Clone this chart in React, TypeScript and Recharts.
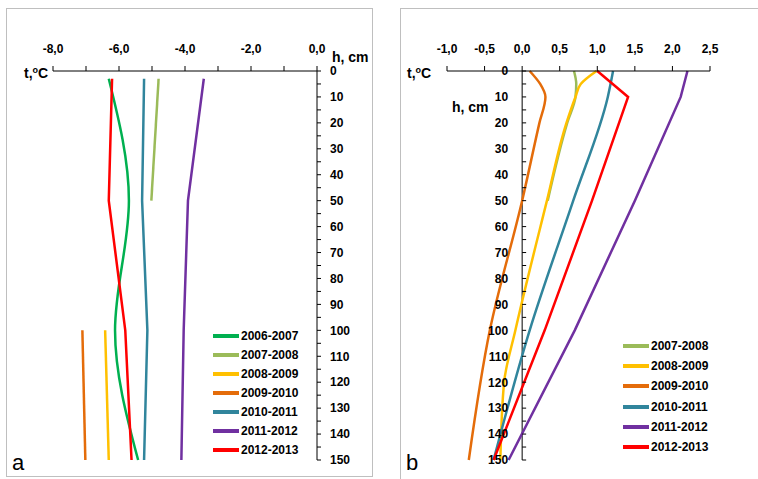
import { Legend, Line, LineChart, ReferenceLine, XAxis, YAxis } from 'recharts';

// ---- panel a (winter-average temperature, °C, against depth, cm)
const seasonsA = ['2006-2007', '2007-2008', '2008-2009', '2009-2010', '2010-2011', '2011-2012', '2012-2013'];
const depthsA = [3, 50, 100, 150];
const depthsA0708 = [3, 50];
const depthsAdeep = [100, 150];
const tA0607 = [-6.31, -5.7, -6.12, -5.42];
const tA0708 = [-4.8, -5.02];
const tA0809 = [-6.42, -6.31];
const tA0910 = [-7.11, -7.02];
const tA1011 = [-5.24, -5.3, -5.14, -5.24];
const tA1112 = [-3.43, -3.91, -4.04, -4.11];
const tA1213 = [-6.21, -6.31, -5.81, -5.62];
const ticksA = [-8, -7, -6, -5, -4, -3, -2, -1, 0];

// ---- panel b
const seasonsB = ['2007-2008', '2008-2009', '2009-2010', '2010-2011', '2011-2012', '2012-2013'];
const depthsB = [0, 10, 50, 100, 150];
const depthsB0708 = [0, 5, 10, 20, 50];
const depthsB0809 = [0, 5, 10, 20, 50, 100, 120, 150];
const depthsB0910 = [0, 5, 10, 20, 50, 100, 150];
const tB0708 = [0.69, 0.72, 0.71, 0.6, 0.34];
const tB0809 = [0.99, 0.78, 0.71, 0.59, 0.33, -0.09, -0.24, -0.29];
const tB0910 = [0.1, 0.24, 0.31, 0.23, 0.0, -0.43, -0.71];
const tB1011 = [1.21, 1.14, 0.68, 0.1, -0.38];
const tB1112 = [2.2, 2.11, 1.5, 0.7, -0.18];
const tB1213 = [1.0, 1.41, 0.93, 0.3, -0.38];
const ticksB = [-1, -0.5, 0, 0.5, 1, 1.5, 2, 2.5];

const depthTicks = [0, 5, 10, 15, 20, 25, 30, 35, 40, 45, 50, 55, 60, 65, 70, 75, 80, 85, 90, 95, 100, 105, 110, 115, 120, 125, 130, 135, 140, 145, 150];

const colors: Record<string, string> = {
  '2006-2007': '#00B050',
  '2007-2008': '#9BBB59',
  '2008-2009': '#FFC000',
  '2009-2010': '#E46C0A',
  '2010-2011': '#31859C',
  '2011-2012': '#7030A0',
  '2012-2013': '#FF0000',
};

const toPoints = (depths: number[], temps: number[]) => depths.map((d, i) => ({ depth: d, t: temps[i] }));

const seriesA = [
  { name: seasonsA[0], data: toPoints(depthsA, tA0607), type: 'monotone' },
  { name: seasonsA[1], data: toPoints(depthsA0708, tA0708), type: 'linear' },
  { name: seasonsA[2], data: toPoints(depthsAdeep, tA0809), type: 'linear' },
  { name: seasonsA[3], data: toPoints(depthsAdeep, tA0910), type: 'linear' },
  { name: seasonsA[4], data: toPoints(depthsA, tA1011), type: 'linear' },
  { name: seasonsA[5], data: toPoints(depthsA, tA1112), type: 'linear' },
  { name: seasonsA[6], data: toPoints(depthsA, tA1213), type: 'linear' },
];

const seriesB = [
  { name: seasonsB[0], data: toPoints(depthsB0708, tB0708), type: 'monotone' },
  { name: seasonsB[1], data: toPoints(depthsB0809, tB0809), type: 'monotone' },
  { name: seasonsB[2], data: toPoints(depthsB0910, tB0910), type: 'monotone' },
  { name: seasonsB[3], data: toPoints(depthsB, tB1011), type: 'monotone' },
  { name: seasonsB[4], data: toPoints(depthsB, tB1112), type: 'linear' },
  { name: seasonsB[5], data: toPoints(depthsB, tB1213), type: 'linear' },
];

const FONT = '"Liberation Sans", Arial, sans-serif';
const tickFont = { fill: '#000', fontSize: 12, fontWeight: 700, fontFamily: FONT };
const comma = (v: number) => v.toFixed(1).replace('.', ',');

// panel b layout, used to put the depth axis at t = 0
const B_AXIS_W = 1;
const B_LEFT = 67;
const B_PLOT_W = 263;
const ZERO_X = B_LEFT + ((0 - ticksB[0]) / (ticksB[ticksB.length - 1] - ticksB[0])) * B_PLOT_W;

function DepthTickB(props: any) {
  const { y, payload } = props;
  const v = payload.value;
  return (
    <g>
      <line x1={ZERO_X} x2={ZERO_X + 4} y1={y} y2={y} stroke="#000" />
      {v % 10 === 0 && (
        <text x={ZERO_X - 14} y={y} dy={4.3} textAnchor="end" {...tickFont}>
          {v}
        </text>
      )}
    </g>
  );
}

function legendContent(rowH: number) {
  return (props: any) => (
    <div>
      {(props.payload ?? []).map((p: any) => (
        <div key={p.value} style={{ display: 'flex', alignItems: 'center', height: rowH }}>
          <span style={{ display: 'inline-block', width: 26, height: 4, background: p.color, marginRight: 2 }} />
          <span style={{ fontFamily: FONT, fontWeight: 700, fontSize: 12, color: '#000' }}>{p.value}</span>
        </div>
      ))}
    </div>
  );
}

function TLabel({ x, y }: { x: number; y: number }) {
  return (
    <text x={x} y={y} fontSize={14} fontWeight={700} fill="#000">
      t,
      <tspan dy={-5} fontSize={9}>o</tspan>
      <tspan dy={5}>C</tspan>
    </text>
  );
}

export default function App() {
  return (
    <div style={{ position: 'absolute', left: 0, top: 0, width: 758, height: 479, overflow: 'hidden', background: '#fff' }}>
      <div style={{ position: 'absolute', left: 6, top: 8, width: 367, height: 469, border: '1px solid #BFBFBF', boxSizing: 'border-box' }} />
      <div style={{ position: 'absolute', left: 400, top: 8, width: 400, height: 500, border: '1px solid #BFBFBF', boxSizing: 'border-box' }} />

      <div style={{ position: 'absolute', left: 0, top: 0 }}>
        <LineChart layout="vertical" width={380} height={479} margin={{ top: 0, right: 23, bottom: 19, left: 53 }} style={{ fontFamily: FONT }}>
          <XAxis
            type="number"
            orientation="top"
            domain={[-8, 0]}
            ticks={ticksA}
            interval={0}
            height={71}
            tickFormatter={(v: number) => (v % 2 === 0 ? comma(v) : '')}
            tick={tickFont}
            tickSize={5}
            tickMargin={13}
            axisLine={{ stroke: '#000' }}
            tickLine={{ stroke: '#000' }}
          />
          <YAxis
            type="number"
            dataKey="depth"
            orientation="right"
            domain={[0, 150]}
            ticks={depthTicks}
            interval={0}
            width={40}
            tickFormatter={(v: number) => (v % 10 === 0 ? String(v) : '')}
            tick={tickFont}
            tickSize={4}
            tickMargin={9}
            axisLine={{ stroke: '#000' }}
            tickLine={{ stroke: '#000' }}
          />
          {seriesA.map((s) => (
            <Line
              key={s.name}
              name={s.name}
              data={s.data}
              dataKey="t"
              type={s.type as any}
              stroke={colors[s.name]}
              strokeWidth={2.5}
              dot={false}
              activeDot={false}
              isAnimationActive={false}
            />
          ))}
          <Legend
            layout="vertical"
            align="center"
            verticalAlign="middle"
            content={legendContent(19)}
            wrapperStyle={{ left: 213, top: 326, width: 110 }}
          />
        </LineChart>
      </div>

      <div style={{ position: 'absolute', left: 380, top: 0 }}>
        <LineChart layout="vertical" width={378} height={479} margin={{ top: 0, right: 378 - B_LEFT - B_PLOT_W, bottom: 19, left: B_LEFT - B_AXIS_W }} style={{ fontFamily: FONT }}>
          <XAxis
            type="number"
            orientation="top"
            domain={[-1, 2.5]}
            ticks={ticksB}
            interval={0}
            height={71}
            tickFormatter={comma}
            tick={tickFont}
            tickSize={5}
            tickMargin={13}
            axisLine={{ stroke: '#000' }}
            tickLine={{ stroke: '#000' }}
          />
          <YAxis
            type="number"
            dataKey="depth"
            orientation="left"
            domain={[0, 150]}
            ticks={depthTicks}
            interval={0}
            width={B_AXIS_W}
            tick={(p: any) => <DepthTickB {...p} />}
            axisLine={false}
            tickLine={false}
          />
          <ReferenceLine x={0} stroke="#000" />
          {seriesB.map((s) => (
            <Line
              key={s.name}
              name={s.name}
              data={s.data}
              dataKey="t"
              type={s.type as any}
              stroke={colors[s.name]}
              strokeWidth={2.5}
              dot={false}
              activeDot={false}
              isAnimationActive={false}
            />
          ))}
          <Legend
            layout="vertical"
            align="center"
            verticalAlign="middle"
            content={legendContent(20.2)}
            wrapperStyle={{ left: 243, top: 336, width: 110 }}
          />
        </LineChart>
      </div>

      <svg width={758} height={479} style={{ position: 'absolute', left: 0, top: 0, pointerEvents: 'none', fontFamily: FONT }}>
        <TLabel x={24} y={78} />
        <TLabel x={407} y={78} />
        <text x={332} y={62} fontSize={14} fontWeight={700} fill="#000">h, cm</text>
        <text x={452} y={112} fontSize={14} fontWeight={700} fill="#000">h, cm</text>
        <text x={12} y={470} fontSize={22} fill="#000">a</text>
        <text x={406} y={470} fontSize={22} fill="#000">b</text>
      </svg>
    </div>
  );
}
